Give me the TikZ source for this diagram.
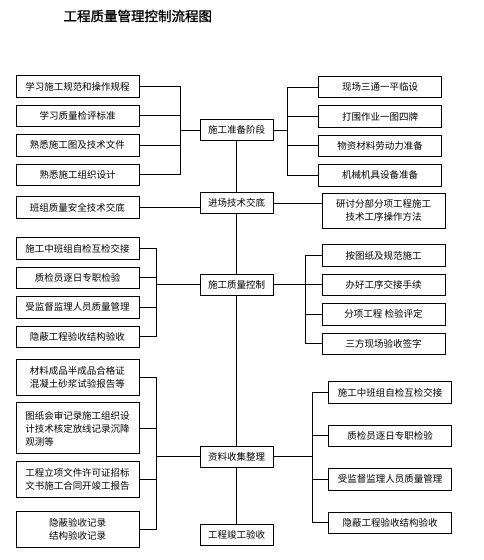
\documentclass[tikz,border=0pt]{standalone}
\usepackage{fontspec}
\usepackage{tikz}
\usetikzlibrary{positioning}
\newfontfamily\cjk{Noto Sans CJK SC}
\newfontfamily\cjktitle[FakeBold=1.2]{Noto Sans CJK SC}

\begin{document}
\begin{tikzpicture}[
    x=1pt, y=-1pt,
    stage/.style={draw, line width=0.9pt, minimum width=73pt, minimum height=21pt, inner sep=1pt, font=\cjk\fontsize{9.5}{13}\selectfont},
    item/.style={draw, line width=0.9pt, minimum width=123pt, minimum height=21.5pt, inner sep=1pt, align=center, font=\cjk\fontsize{9.5}{13}\selectfont},
    link/.style={line width=0.9pt}
]
    \useasboundingbox (0,0) rectangle (483,560);
    \node[anchor=west, font=\cjktitle\fontsize{13.5}{16}\selectfont] (title) at (60,16) {工程质量管理控制流程图};

    % Nodes - main stages
    \node[stage] (prep) at (236.5,130) {施工准备阶段};
    \node[stage] (brief) at (236.5,203) {进场技术交底};
    \node[stage] (qc) at (236.5,284.5) {施工质量控制};
    \node[stage] (data) at (236.5,456.5) {资料收集整理};
    \node[stage] (accept) at (236.5,534.5) {工程竣工验收};

    % Nodes - preparation
    \node[item] (a1) at (77.5,86.5) {学习施工规范和操作规程};
    \node[item, below=7pt of a1] (a2) {学习质量检评标准};
    \node[item, below=7pt of a2] (a3) {熟悉施工图及技术文件};
    \node[item, below=7pt of a3] (a4) {熟悉施工组织设计};
    \node[item] (r1) at (380,87) {现场三通一平临设};
    \node[item, below=7pt of r1] (r2) {打围作业一图四牌};
    \node[item, below=7pt of r2] (r3) {物资材料劳动力准备};
    \node[item, below=7pt of r3] (r4) {机械机具设备准备};

    % Nodes - briefing
    \node[item] (b1) at (77.5,207.5) {班组质量安全技术交底};
    \node[item, minimum height=35pt] (b2) at (383.5,210.5) {研讨分部分项工程施工\\技术工序操作方法};

    % Nodes - quality control
    \node[item] (c1) at (77.5,248.5) {施工中班组自检互检交接};
    \node[item, below=7pt of c1] (c2) {质检员逐日专职检验};
    \node[item, below=7pt of c2] (c3) {受监督监理人员质量管理};
    \node[item, below=7pt of c3] (c4) {隐蔽工程验收结构验收};
    \node[item] (d1) at (383.5,255.5) {按图纸及规范施工};
    \node[item, below=7pt of d1] (d2) {办好工序交接手续};
    \node[item, below=7pt of d2] (d3) {分项工程\ 检验评定};
    \node[item, below=7pt of d3] (d4) {三方现场验收签字};

    % Nodes - records
    \node[item, align=left, minimum height=36pt] (e1) at (77.5,377) {材料成品半成品合格证\\混凝土砂浆试验报告等};
    \node[item, align=left, minimum height=51pt, below=7pt of e1] (e2) {图纸会审记录施工组织设\\计技术核定放线记录沉降\\观测等};
    \node[item, align=left, minimum height=36pt, below=7pt of e2] (e3) {工程立项文件许可证招标\\文书施工合同开竣工报告};
    \node[item, minimum height=36pt, below=13pt of e3] (e4) {隐蔽验收记录\\结构验收记录};
    \node[item] (f1) at (390,392.5) {施工中班组自检互检交接};
    \node[item, below=21pt of f1] (f2) {质检员逐日专职检验};
    \node[item, below=21pt of f2] (f3) {受监督监理人员质量管理};
    \node[item, below=21pt of f3] (f4) {隐蔽工程验收结构验收};

    % Junctions
    \coordinate (ja) at ([xshift=-19pt]prep.west);
    \coordinate (jb) at ([xshift=14pt]prep.east);
    \coordinate (jc) at ([xshift=-43pt]qc.west);
    \coordinate (jd) at ([xshift=32pt]qc.east);
    \coordinate (je) at ([xshift=-43pt]data.west);
    \coordinate (jf) at ([xshift=39pt]data.east);

    % Connectors
    \draw[link] (prep) -- (brief) -- (qc) -- (data) -- (accept);
    \foreach \n in {a1,a2,a3,a4} \draw[link] (\n.east) -| (ja);
    \foreach \n in {r1,r2,r3,r4} \draw[link] (\n.west) -| (jb);
    \foreach \n in {c1,c2,c3,c4} \draw[link] (\n.east) -| (jc);
    \foreach \n in {d1,d2,d3,d4} \draw[link] (\n.west) -| (jd);
    \foreach \n in {e1,e2,e3,e4} \draw[link] (\n.east) -| (je);
    \foreach \n in {f1,f2,f3,f4} \draw[link] (\n.west) -| (jf);
    \draw[link] (ja) -- (prep.west);
    \draw[link] (prep.east) -- (jb);
    \draw[link] (jc) -- (qc.west);
    \draw[link] (qc.east) -- (jd);
    \draw[link] (je) -- (data.west);
    \draw[link] (data.east) -- (jf);
    \draw[link] (b1.east) -- (b1.east -| brief.west);
    \draw[link] (brief.east) -- (brief.east -| b2.west);
\end{tikzpicture}
\end{document}
